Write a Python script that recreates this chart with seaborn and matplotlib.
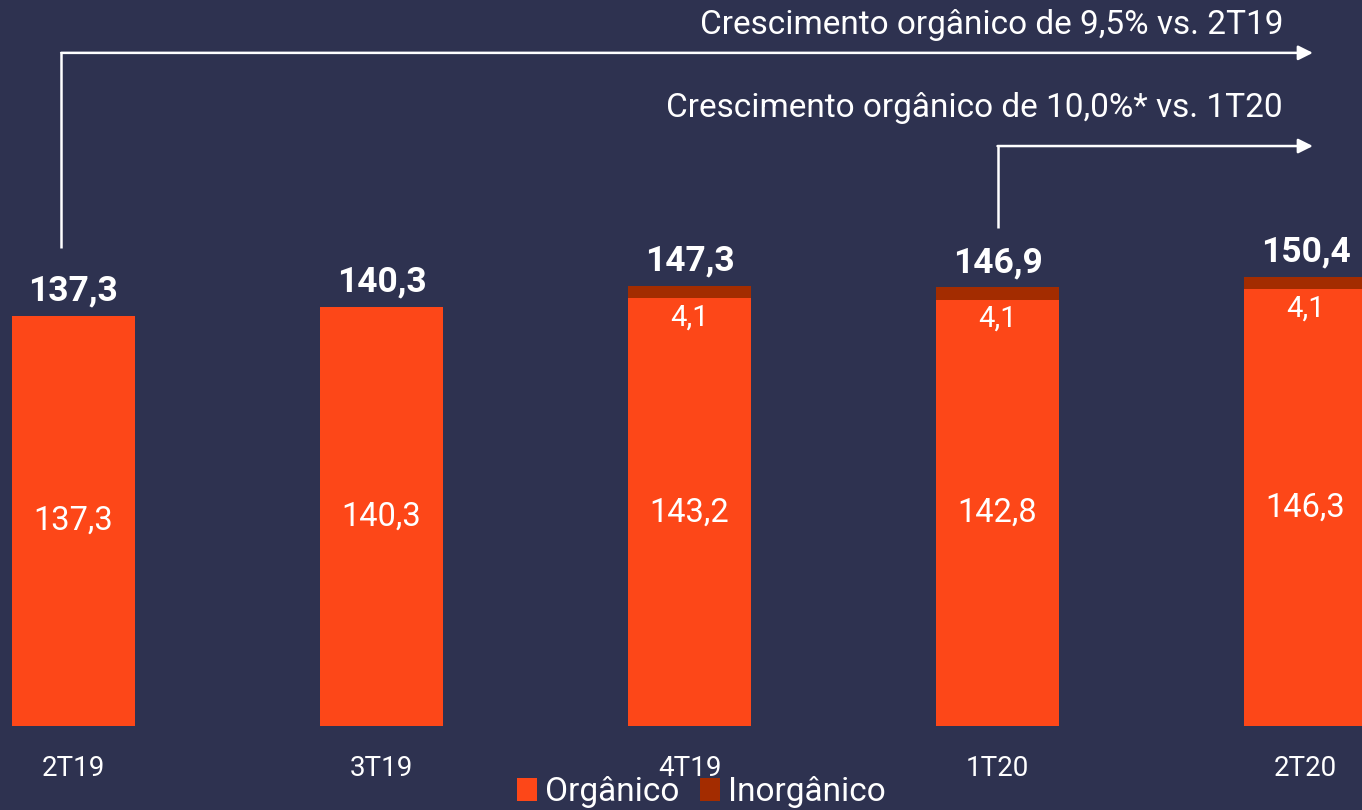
import matplotlib
matplotlib.use("Agg")
import matplotlib.pyplot as plt
from matplotlib.patches import Patch
import pandas as pd
import seaborn as sns

# data
quarters = ["2T19", "3T19", "4T19", "1T20", "2T20"]
organico = [137.3, 140.3, 143.2, 142.8, 146.3]
inorganico = [0.0, 0.0, 4.1, 4.1, 4.1]
totais = [137.3, 140.3, 147.3, 146.9, 150.4]
setas = ["Crescimento orgânico de 9,5% vs. 2T19",
         "Crescimento orgânico de 10,0%* vs. 1T20"]

BG = "#2e3250"
ORANGE = "#fd4718"
DARK = "#a32c00"


def fmt(v):
    return f"{v:.1f}".replace(".", ",")


sns.set_style("white")
plt.rcParams['font.family'] = ['Roboto', 'DejaVu Sans']

df = pd.DataFrame({"trimestre": quarters, "organico": organico,
                   "inorganico": inorganico, "total": totais})

fig = plt.figure(figsize=(13.62, 8.1), dpi=100, facecolor=BG)
ax = fig.add_axes([0, 84 / 810, 1, 726 / 810])
ax.set_facecolor(BG)

# stacked bars: total first (inorganic colour), organic on top of it
sns.barplot(data=df, x="trimestre", y="total", color=DARK, width=0.4,
            saturation=1, linewidth=0, ax=ax)
sns.barplot(data=df, x="trimestre", y="organico", color=ORANGE, width=0.4,
            saturation=1, linewidth=0, ax=ax)

ax.set_xlim(-0.2386, 4.1834)
ax.set_ylim(0, 243.1)
for s in ax.spines.values():
    s.set_visible(False)
ax.set_yticks([])
ax.set_xlabel("")
ax.set_ylabel("")
ax.tick_params(axis="x", length=0, pad=21, labelsize=20, labelcolor="white")

for i in range(len(quarters)):
    # organic value in the middle of the bar
    ax.text(i, organico[i] / 2, fmt(organico[i]), ha="center", va="center",
            color="white", fontsize=23.5)
    # total above the bar
    ax.annotate(fmt(totais[i]), (i, totais[i]), xytext=(0, 6),
                textcoords="offset points", ha="center", va="bottom",
                color="white", fontsize=25.5, fontweight="bold",
                annotation_clip=False)
    if inorganico[i] > 0:
        ax.annotate(fmt(inorganico[i]), (i, organico[i]), xytext=(0, -14),
                    textcoords="offset points", ha="center", va="center",
                    color="white", fontsize=21)

# growth arrows
arrow_kw = dict(arrowstyle="-|>", color="white", lw=1.8, mutation_scale=22,
                shrinkA=0, shrinkB=0)
ax.plot([-0.04, -0.04], [160.1, 225.4], color="white", lw=1.8,
        solid_capstyle="butt")
ax.annotate("", xy=(4.024, 225.4), xytext=(-0.04, 225.4), arrowprops=arrow_kw,
            annotation_clip=False)
ax.plot([3.0, 3.0], [166.8, 194.2], color="white", lw=1.8,
        solid_capstyle="butt")
ax.annotate("", xy=(4.024, 194.2), xytext=(3.0, 194.2), arrowprops=arrow_kw,
            annotation_clip=False)

ax.text(3.927, 234.8, setas[0], ha="right", va="center", color="white",
        fontsize=24)
ax.text(3.927, 207.0, setas[1], ha="right", va="center", color="white",
        fontsize=24)

handles = [Patch(facecolor=ORANGE, edgecolor="none"),
           Patch(facecolor=DARK, edgecolor="none")]
leg = fig.legend(handles, ["Orgânico", "Inorgânico"], loc="lower center",
                 bbox_to_anchor=(0.515, -0.035), ncol=2, frameon=False,
                 fontsize=24, handlelength=0.6, handleheight=0.7,
                 handletextpad=0.25, columnspacing=0.6, labelcolor="white")

fig.savefig("out.png", dpi=100, facecolor=BG)
